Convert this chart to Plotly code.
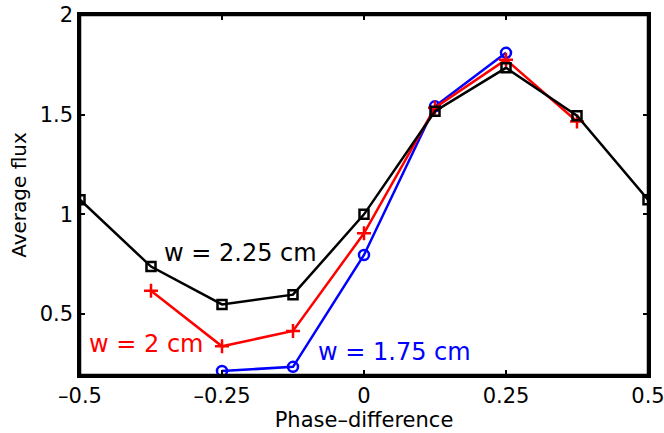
import plotly.graph_objects as go

x_black = [-0.5, -0.375, -0.25, -0.125, 0, 0.125, 0.25, 0.375, 0.5]
y_black = [1.073, 0.738, 0.548, 0.597, 1.0, 1.517, 1.735, 1.495, 1.073]
x_red = [-0.375, -0.25, -0.125, 0, 0.125, 0.25, 0.375]
y_red = [0.617, 0.338, 0.415, 0.905, 1.535, 1.776, 1.466]
x_blue = [-0.25, -0.125, 0, 0.125, 0.25]
y_blue = [0.214, 0.235, 0.796, 1.542, 1.81]

x_ticks = [-0.5, -0.25, 0, 0.25, 0.5]
x_ticklabels = ["\u20130.5", "\u20130.25", "0", "0.25", "0.5"]
y_ticks = [0.5, 1, 1.5, 2]
y_ticklabels = ["0.5", "1", "1.5", "2"]

font = "DejaVu Sans"
fig = go.Figure()
fig.add_trace(go.Scatter(x=x_blue, y=y_blue, mode="lines+markers",
                         line=dict(color="#0000ff", width=2.5),
                         marker=dict(symbol="circle-open", size=10, color="#0000ff", line=dict(width=2.5))))
fig.add_trace(go.Scatter(x=x_red, y=y_red, mode="lines+markers",
                         line=dict(color="#ff0000", width=2.5),
                         marker=dict(symbol="cross-thin-open", size=10, color="#ff0000", line=dict(width=2.5, color="#ff0000"))))
fig.add_trace(go.Scatter(x=x_black, y=y_black, mode="lines+markers",
                         line=dict(color="#000000", width=2.5),
                         marker=dict(symbol="square-open", size=9, color="#000000", line=dict(width=2.5))))

anns = [
    dict(x=-0.217, y=0.806, text="w = 2.25 cm", color="#000000"),
    dict(x=-0.384, y=0.349, text="w = 2 cm", color="#ff0000"),
    dict(x=0.053, y=0.309, text="w = 1.75 cm", color="#0000ff"),
]
for a in anns:
    fig.add_annotation(x=a["x"], y=a["y"], text=a["text"], showarrow=False,
                       font=dict(family=font, size=24, color=a["color"]),
                       bgcolor="rgba(255,255,255,0)")

# plot frame
fig.add_shape(type="rect", xref="paper", yref="paper", x0=0, x1=1, y0=0, y1=1,
              line=dict(color="black", width=2.5), layer="above")

axis_common = dict(showgrid=False, zeroline=False, showline=True, linecolor="black",
                   linewidth=2.5, mirror="allticks", ticks="inside", ticklen=5,
                   tickwidth=2, tickcolor="black", automargin=False,
                   ticklabeloverflow="allow",
                   tickfont=dict(family=font, size=21, color="black"))
fig.update_xaxes(range=[-0.5, 0.5], tickvals=x_ticks, ticktext=x_ticklabels,
                 title=dict(text="Phase\u2013difference", font=dict(family=font, size=21, color="black"), standoff=2),
                 **axis_common)
fig.update_yaxes(range=[0.194, 2], tickvals=y_ticks, ticktext=y_ticklabels,
                 title=dict(text="Average flux", font=dict(family=font, size=20, color="black"), standoff=8),
                 **axis_common)
fig.update_layout(width=664, height=433, margin=dict(l=80, r=16, t=15, b=58, autoexpand=False),
                  plot_bgcolor="white", paper_bgcolor="white", showlegend=False)
fig.write_html("out.html", config={"displayModeBar": False},
               post_script="document.body.style.margin='0';document.body.style.padding='0';")
